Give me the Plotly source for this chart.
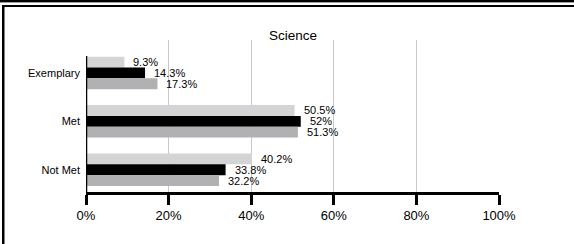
import plotly.graph_objects as go

categories = ["Exemplary", "Met", "Not Met"]
series_a = [9.3, 50.5, 40.2]   # light gray
series_b = [14.3, 52, 33.8]    # black
series_c = [17.3, 51.3, 32.2]  # mid gray
tick_vals = [0, 20, 40, 60, 80, 100]
tick_text = ["0%", "20%", "40%", "60%", "80%", "100%"]
title_text = "Science"

colors = ["#d4d4d6", "#000000", "#b1b1b4"]
series = [series_a, series_b, series_c]
yshifts = [11, 0, -11]

FONT = "Liberation Sans, Arial, Helvetica, sans-serif"

fig = go.Figure()
for vals, col in zip(series, colors):
    fig.add_trace(go.Bar(
        y=categories, x=vals, orientation="h",
        marker=dict(color=col, line=dict(width=0)),
        showlegend=False, hoverinfo="skip",
    ))

annotations = []
for vals, ys in zip(series, yshifts):
    for cat, v in zip(categories, vals):
        annotations.append(dict(
            x=v, y=cat, xref="x", yref="y", text=f"{v:g}%",
            showarrow=False, xanchor="left", yanchor="middle",
            xshift=7, yshift=ys,
            font=dict(family=FONT, size=11, color="#000"),
        ))

annotations.append(dict(
    x=0.5, y=1.0, xref="paper", yref="paper", text=title_text,
    showarrow=False, xanchor="center", yanchor="middle", yshift=5,
    font=dict(family=FONT, size=13.5, color="#000"),
))

W = 574
H = 244
ml, mr, mt, mb = 86, 75, 40, 52
pw = W - ml - mr
ph = H - mt - mb

def px_x(p):
    return (p - ml) / pw

def px_y(p):
    return (H - mb - p) / ph

shapes = [
    # top double border
    dict(type="rect", xref="paper", yref="paper",
         x0=px_x(0), x1=px_x(W), y0=px_y(2), y1=px_y(0),
         fillcolor="#000", line=dict(width=0), layer="above"),
    dict(type="rect", xref="paper", yref="paper",
         x0=px_x(0), x1=px_x(W), y0=px_y(3), y1=px_y(2),
         fillcolor="#9a9a9a", line=dict(width=0), layer="above"),
    dict(type="rect", xref="paper", yref="paper",
         x0=px_x(3), x1=px_x(W), y0=px_y(7), y1=px_y(5),
         fillcolor="#000", line=dict(width=0), layer="above"),
    # left border
    dict(type="rect", xref="paper", yref="paper",
         x0=px_x(2), x1=px_x(4.5), y0=px_y(H), y1=px_y(5),
         fillcolor="#000", line=dict(width=0), layer="above"),
    # y axis line
    dict(type="line", xref="x", yref="paper",
         x0=0, x1=0, y0=0, y1=px_y(56),
         line=dict(color="#000", width=2.5), layer="above"),
]

fig.update_layout(
    width=W, height=H,
    margin=dict(l=ml, r=mr, t=mt, b=mb, pad=0),
    paper_bgcolor="white", plot_bgcolor="white",
    barmode="group", bargap=0.33, bargroupgap=0,
    font=dict(family=FONT, color="#000"),
    annotations=annotations,
    shapes=shapes,
    xaxis=dict(
        range=[0, 100], tickvals=tick_vals, ticktext=tick_text,
        tickfont=dict(size=13, color="#000"),
        showgrid=True, gridcolor="#c8c8cc", gridwidth=1,
        zeroline=False, showline=True, linecolor="#000", linewidth=2.5,
        ticks="outside", ticklen=10, tickwidth=2.5, tickcolor="#000",
        fixedrange=True,
    ),
    yaxis=dict(
        categoryorder="array", categoryarray=categories,
        range=[2.46, -0.68],
        tickfont=dict(size=11, color="#000"),
        showgrid=False, zeroline=False, showline=False,
        ticks="", ticklabelstandoff=5,
        fixedrange=True,
    ),
)

fig.write_html(
    "out.html",
    config={"displayModeBar": False},
    post_script="document.body.style.margin='0';document.body.style.overflow='hidden';",
)
